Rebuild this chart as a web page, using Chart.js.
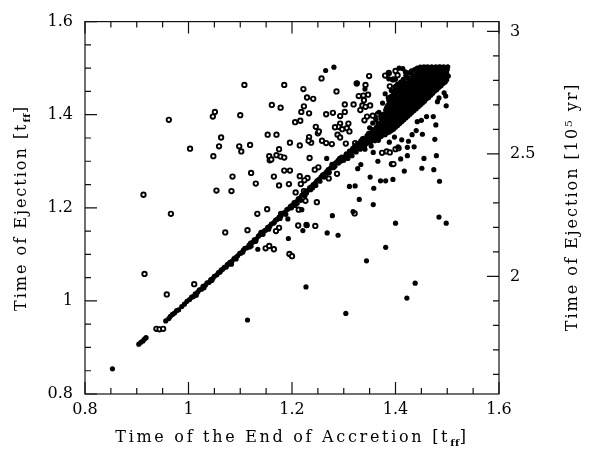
<!DOCTYPE html>
<html><head><meta charset="utf-8">
<script src="https://cdn.jsdelivr.net/npm/chart.js@4"></script>
<style>html,body{margin:0;padding:0;background:#fff}</style>
</head><body>
<canvas id="c" width="591" height="449"></canvas>
<script>
// ---- axis ticks ----
const xTickValues = [0.8, 1.0, 1.2, 1.4, 1.6];
const xTickLabels = ['0.8', '1', '1.2', '1.4', '1.6'];
const yTickValues = [0.8, 1.0, 1.2, 1.4, 1.6];
const yTickLabels = ['0.8', '1', '1.2', '1.4', '1.6'];
const y2TickValues = [2, 2.5, 3];
const y2TickLabels = ['2', '2.5', '3'];

// ---- data: [end of accretion (t_ff), ejection (t_ff)] ----
const ringPoints = [
[0.913,1.228],[0.966,1.187],[0.962,1.389],[1.003,1.327],[0.915,1.058],[0.958,1.014],[1.011,1.036],[0.938,0.940],[0.944,0.939],[0.951,0.940],
[1.047,1.396],[1.051,1.406],[1.063,1.351],[1.059,1.332],[1.048,1.311],[1.054,1.237],[1.071,1.147],[1.083,1.236],[1.085,1.267],[1.100,1.399],
[1.108,1.464],[1.098,1.332],[1.102,1.321],[1.119,1.335],[1.121,1.275],[1.130,1.252],[1.133,1.187],[1.114,1.152],[1.152,1.197],[1.153,1.357],
[1.170,1.357],[1.161,1.421],[1.178,1.415],[1.185,1.464],[1.165,1.267],[1.175,1.248],[1.185,1.280],[1.196,1.280],[1.194,1.251],[1.156,1.311],
[1.157,1.302],[1.170,1.313],[1.178,1.310],[1.185,1.308],[1.175,1.326],[1.196,1.340],[1.206,1.384],[1.216,1.387],[1.223,1.418],[1.218,1.406],
[1.233,1.403],[1.222,1.455],[1.229,1.437],[1.241,1.434],[1.257,1.478],[1.246,1.374],[1.233,1.352],[1.250,1.360],[1.252,1.364],[1.237,1.340],
[1.232,1.344],[1.215,1.334],[1.258,1.344],[1.266,1.401],[1.279,1.404],[1.277,1.337],[1.234,1.307],[1.215,1.268],[1.230,1.264],[1.217,1.251],
[1.224,1.259],[1.207,1.233],[1.223,1.236],[1.213,1.196],[1.226,1.215],[1.248,1.212],[1.212,1.162],[1.228,1.163],[1.245,1.161],[1.175,1.157],
[1.169,1.150],[1.251,1.287],[1.244,1.282],[1.262,1.270],[1.271,1.263],[1.287,1.273],[1.149,1.113],[1.156,1.118],[1.165,1.111],[1.195,1.101],
[1.200,1.096],[1.160,1.304],[1.286,1.450],[1.302,1.422],[1.319,1.422],[1.302,1.406],[1.293,1.397],[1.325,1.467],[1.342,1.464],[1.349,1.483],
[1.329,1.440],[1.338,1.441],[1.347,1.443],[1.339,1.431],[1.332,1.410],[1.336,1.420],[1.342,1.417],[1.351,1.420],[1.293,1.381],[1.309,1.381],
[1.306,1.371],[1.290,1.374],[1.297,1.369],[1.311,1.364],[1.288,1.357],[1.293,1.351],[1.266,1.339],[1.304,1.338],[1.322,1.339],[1.326,1.335],
[1.283,1.373],[1.380,1.484],[1.387,1.489],[1.404,1.485],[1.396,1.476],[1.389,1.461],[1.402,1.461],[1.400,1.494],[1.393,1.294],[1.396,1.294],
[1.374,1.318],[1.383,1.321],[1.389,1.319],[1.400,1.326],[1.406,1.328],[1.321,1.188],[1.278,1.292],[1.345,1.396],[1.356,1.398],[1.366,1.401],
[1.340,1.388]
];

const diagonalPoints = [
[0.853,0.854],[0.904,0.907],[0.908,0.911],[0.912,0.914],[0.915,0.918],[0.918,0.921],[0.956,0.957],[0.962,0.962],[0.965,0.967],[0.969,0.971],
[0.973,0.974],[0.977,0.979],[0.981,0.981],[0.987,0.988],[0.992,0.993],[0.997,0.999],
[1.002,1.003],[1.006,1.008],[1.009,1.009],[1.013,1.015],[1.018,1.019],[1.021,1.024],[1.025,1.025],[1.028,1.031],[1.033,1.034],[1.036,1.039],
[1.040,1.040],[1.043,1.046],[1.047,1.048],[1.050,1.053],[1.055,1.056],[1.058,1.061],[1.061,1.062],[1.066,1.068],[1.069,1.072],[1.073,1.073],
[1.077,1.079],[1.080,1.083],[1.084,1.085],[1.088,1.091],[1.091,1.093],[1.095,1.097],[1.099,1.102],[1.102,1.103],[1.106,1.109],[1.109,1.113],
[1.113,1.114],[1.117,1.120],[1.120,1.124],[1.124,1.126],[1.127,1.131],[1.131,1.133],[1.135,1.139],[1.138,1.142],[1.142,1.145],[1.146,1.150],
[1.149,1.152],[1.153,1.158],[1.157,1.160],[1.160,1.165],[1.164,1.167],[1.168,1.173],[1.171,1.175],[1.175,1.180],[1.179,1.183],[1.182,1.188],
[1.186,1.190],[1.190,1.196],[1.193,1.198],[1.197,1.203],[1.201,1.206],[1.204,1.211],[1.208,1.213],[1.212,1.219],[1.215,1.221],[1.219,1.227],
[1.223,1.229],[1.226,1.234],[1.230,1.237],[1.234,1.243],[1.237,1.245],[1.241,1.250],[1.245,1.253],[1.248,1.258],[1.252,1.261],[1.256,1.266],
[1.259,1.270],[1.263,1.273],[1.267,1.278],[1.270,1.282],[1.274,1.285],[1.278,1.290],[1.281,1.294],[1.285,1.297],[1.289,1.302],[1.292,1.306],
[1.296,1.309],[1.083,1.079],[1.121,1.118],[1.140,1.147],[1.178,1.188],[1.210,1.210],[1.225,1.226],[1.240,1.243],[1.262,1.266],[1.280,1.286],
[1.290,1.296],[1.015,1.012],[1.030,1.028],[1.045,1.044],[1.063,1.066],[1.075,1.078],[1.092,1.090],[1.105,1.105],[1.118,1.116],[1.130,1.128],
[1.144,1.143],[1.155,1.154],[1.166,1.169],[1.177,1.177],[1.188,1.186],[1.199,1.200],[1.206,1.205],[1.217,1.216],[1.228,1.232],[1.236,1.239],
[1.246,1.248],[1.254,1.257],[1.265,1.270],[1.272,1.276],[1.283,1.289],[1.294,1.300]
];

const clusterPoints = [
[1.302,1.309],[1.305,1.316],[1.309,1.313],[1.311,1.322],[1.314,1.318],[1.317,1.327],[1.320,1.323],[1.322,1.333],[1.326,1.329],[1.328,1.338],
[1.331,1.334],[1.333,1.344],[1.336,1.340],[1.338,1.349],[1.341,1.336],[1.343,1.346],[1.345,1.355],[1.347,1.341],[1.350,1.351],[1.352,1.361],
[1.355,1.347],[1.357,1.357],[1.359,1.366],[1.361,1.352],[1.363,1.372],[1.365,1.362],[1.367,1.345],[1.369,1.377],[1.371,1.368],[1.373,1.356],
[1.375,1.383],[1.377,1.373],[1.379,1.391],[1.380,1.362],[1.382,1.379],[1.384,1.398],[1.386,1.386],[1.387,1.369],[1.389,1.407],[1.391,1.393],
[1.392,1.378],[1.394,1.414],[1.396,1.401],[1.397,1.386],[1.399,1.423],[1.400,1.409],[1.402,1.437],[1.403,1.393],[1.405,1.418],[1.406,1.447],
[1.408,1.404],[1.409,1.430],[1.411,1.456],[1.412,1.415],[1.414,1.441],[1.415,1.389],[1.417,1.425],[1.418,1.452],[1.420,1.434],[1.421,1.409],
[1.423,1.461],[1.424,1.444],[1.426,1.420],[1.427,1.469],[1.429,1.452],[1.430,1.432],[1.432,1.412],[1.433,1.462],[1.435,1.442],[1.436,1.476],
[1.438,1.425],[1.439,1.455],[1.441,1.485],[1.442,1.437],[1.444,1.466],[1.445,1.448],[1.447,1.493],[1.448,1.477],[1.450,1.432],[1.451,1.458],
[1.453,1.497],[1.454,1.486],[1.456,1.446],[1.457,1.470],[1.459,1.499],[1.460,1.456],[1.462,1.483],[1.463,1.441],[1.465,1.493],[1.466,1.466],
[1.468,1.500],[1.469,1.452],[1.471,1.478],[1.472,1.490],[1.474,1.462],[1.475,1.501],[1.477,1.472],[1.478,1.488],[1.480,1.496],[1.481,1.458],
[1.483,1.480],[1.484,1.502],[1.486,1.468],[1.487,1.491],[1.489,1.499],[1.490,1.475],[1.492,1.486],[1.493,1.503],[1.495,1.480],[1.496,1.494],
[1.498,1.501],[1.499,1.488],[1.500,1.497],[1.501,1.503],[1.502,1.483],
[1.372,1.392],[1.376,1.401],[1.381,1.410],[1.385,1.420],[1.388,1.428],[1.393,1.437],[1.397,1.446],[1.386,1.437],[1.392,1.452],[1.399,1.460],
[1.404,1.466],[1.410,1.470],[1.415,1.476],[1.380,1.445],[1.375,1.425],[1.368,1.405],[1.362,1.390],[1.356,1.382],[1.350,1.372],
[1.420,1.484],[1.425,1.490],[1.431,1.494],[1.437,1.497],[1.442,1.500],[1.448,1.502],[1.455,1.503],[1.462,1.503],[1.470,1.503],[1.478,1.503],
[1.486,1.503],[1.387,1.491],[1.407,1.500],[1.414,1.499],[1.419,1.492],[1.387,1.477],[1.394,1.475],[1.400,1.476],[1.436,1.477],[1.446,1.479],
[1.395,1.425],[1.401,1.430],[1.407,1.438],[1.413,1.448],[1.419,1.443],[1.425,1.455],[1.431,1.448],[1.437,1.466],[1.443,1.458],[1.449,1.470],
[1.455,1.478],[1.461,1.472],[1.467,1.485],[1.473,1.482],[1.479,1.490],[1.485,1.494],[1.491,1.497],[1.497,1.499],[1.410,1.420],[1.416,1.432],
[1.422,1.426],[1.428,1.440],[1.434,1.433],[1.440,1.447],[1.446,1.440],[1.452,1.465],[1.458,1.460],[1.464,1.475],[1.470,1.468],[1.476,1.494],
[1.482,1.470],[1.488,1.484]
];

const clusterCore = [
[1.364,1.351],[1.363,1.359],[1.365,1.367],[1.364,1.374],[1.366,1.382],
[1.372,1.353],[1.373,1.362],[1.371,1.371],[1.372,1.380],[1.374,1.389],
[1.380,1.357],[1.381,1.366],[1.379,1.376],[1.381,1.385],[1.380,1.395],[1.382,1.404],
[1.388,1.363],[1.389,1.372],[1.387,1.382],[1.388,1.391],[1.390,1.400],[1.388,1.411],[1.389,1.419],[1.387,1.432],
[1.396,1.369],[1.397,1.378],[1.395,1.388],[1.396,1.397],[1.398,1.407],[1.396,1.416],[1.395,1.429],[1.397,1.438],[1.396,1.449],
[1.404,1.377],[1.405,1.386],[1.403,1.396],[1.404,1.405],[1.406,1.414],[1.404,1.423],[1.403,1.434],[1.405,1.443],[1.404,1.453],
[1.412,1.385],[1.413,1.394],[1.411,1.403],[1.412,1.412],[1.414,1.422],[1.412,1.431],[1.411,1.440],[1.413,1.450],[1.412,1.460],
[1.420,1.393],[1.421,1.402],[1.419,1.411],[1.420,1.420],[1.422,1.429],[1.420,1.438],[1.419,1.448],[1.421,1.457],[1.420,1.467],
[1.428,1.401],[1.429,1.410],[1.427,1.419],[1.428,1.428],[1.430,1.437],[1.428,1.446],[1.427,1.456],[1.429,1.465],[1.428,1.474],
[1.436,1.409],[1.437,1.418],[1.435,1.427],[1.436,1.436],[1.438,1.445],[1.436,1.454],[1.435,1.463],[1.437,1.472],[1.436,1.482],
[1.444,1.417],[1.445,1.426],[1.443,1.435],[1.444,1.444],[1.446,1.453],[1.444,1.462],[1.443,1.471],[1.445,1.480],[1.444,1.489],
[1.452,1.425],[1.453,1.434],[1.451,1.443],[1.452,1.452],[1.454,1.461],[1.452,1.470],[1.451,1.479],[1.453,1.488],[1.452,1.497],
[1.460,1.434],[1.461,1.443],[1.459,1.452],[1.460,1.461],[1.462,1.470],[1.460,1.479],[1.459,1.488],[1.461,1.496],
[1.468,1.442],[1.469,1.451],[1.467,1.460],[1.468,1.469],[1.470,1.478],[1.468,1.487],[1.467,1.495],
[1.476,1.451],[1.477,1.460],[1.475,1.469],[1.476,1.478],[1.478,1.487],[1.476,1.496],
[1.484,1.459],[1.485,1.468],[1.483,1.477],[1.484,1.486],[1.486,1.495],
[1.492,1.467],[1.493,1.476],[1.491,1.485],[1.492,1.494],[1.494,1.501],
[1.499,1.475],[1.500,1.484],[1.498,1.493],[1.499,1.501],
[1.300,1.302],[1.304,1.312],[1.308,1.306],[1.312,1.316],[1.316,1.312],[1.320,1.330],[1.324,1.320],[1.328,1.332],[1.332,1.326],[1.336,1.348],
[1.340,1.332],[1.344,1.338],[1.348,1.360],[1.352,1.342],[1.356,1.368],[1.360,1.344]
];

const clusterFill = [
[1.368,1.355],[1.369,1.363],[1.367,1.371],[1.368,1.379],
[1.376,1.357],[1.377,1.366],[1.375,1.375],[1.376,1.385],[1.377,1.394],
[1.384,1.361],[1.385,1.370],[1.383,1.380],[1.384,1.390],[1.385,1.399],[1.384,1.408],[1.383,1.416],
[1.392,1.366],[1.393,1.376],[1.391,1.386],[1.392,1.395],[1.393,1.405],[1.392,1.414],[1.391,1.424],[1.392,1.440],
[1.400,1.373],[1.401,1.382],[1.399,1.391],[1.400,1.401],[1.401,1.410],[1.400,1.419],[1.399,1.428],[1.400,1.438],[1.401,1.448],[1.400,1.456],
[1.408,1.381],[1.409,1.390],[1.407,1.399],[1.408,1.408],[1.409,1.417],[1.408,1.426],[1.407,1.435],[1.408,1.445],[1.409,1.455],[1.408,1.463],
[1.416,1.389],[1.417,1.398],[1.415,1.407],[1.416,1.416],[1.417,1.425],[1.416,1.434],[1.415,1.444],[1.416,1.453],[1.417,1.462],[1.416,1.471],
[1.424,1.397],[1.425,1.406],[1.423,1.415],[1.424,1.424],[1.425,1.433],[1.424,1.442],[1.423,1.451],[1.424,1.460],[1.425,1.470],[1.424,1.479],
[1.432,1.405],[1.433,1.414],[1.431,1.423],[1.432,1.431],[1.433,1.440],[1.432,1.449],[1.431,1.458],[1.432,1.467],[1.433,1.477],[1.432,1.486],
[1.440,1.413],[1.441,1.421],[1.439,1.430],[1.440,1.439],[1.441,1.448],[1.440,1.457],[1.439,1.466],[1.440,1.475],[1.441,1.485],[1.440,1.494],
[1.448,1.421],[1.449,1.429],[1.447,1.438],[1.448,1.447],[1.449,1.456],[1.448,1.465],[1.447,1.474],[1.448,1.483],[1.449,1.492],[1.448,1.499],
[1.456,1.429],[1.457,1.437],[1.455,1.446],[1.456,1.455],[1.457,1.464],[1.456,1.473],[1.455,1.482],[1.456,1.491],[1.457,1.500],
[1.464,1.437],[1.465,1.446],[1.463,1.455],[1.464,1.464],[1.465,1.473],[1.464,1.482],[1.463,1.491],[1.464,1.500],
[1.472,1.446],[1.473,1.455],[1.471,1.464],[1.472,1.473],[1.473,1.482],[1.472,1.491],[1.471,1.500],
[1.480,1.454],[1.481,1.463],[1.479,1.472],[1.480,1.481],[1.481,1.490],[1.480,1.499],
[1.488,1.462],[1.489,1.471],[1.487,1.480],[1.488,1.489],[1.489,1.498],
[1.496,1.470],[1.497,1.479],[1.495,1.488],[1.496,1.497]
];

const scatterDots = [
[1.114,0.959],[1.304,0.973],[1.227,1.030],[1.422,1.006],[1.438,1.038],[1.344,1.086],[1.381,1.115],[1.400,1.167],[1.498,1.167],[1.484,1.180],
[1.485,1.257],[1.479,1.312],[1.455,1.306],[1.451,1.285],[1.474,1.282],[1.423,1.312],[1.410,1.305],[1.417,1.279],[1.395,1.261],[1.381,1.258],
[1.371,1.258],[1.366,1.300],[1.423,1.330],[1.436,1.331],[1.351,1.266],[1.358,1.242],[1.357,1.207],[1.330,1.218],[1.318,1.192],[1.311,1.246],
[1.322,1.247],[1.333,1.293],[1.327,1.284],[1.278,1.183],[1.268,1.146],[1.289,1.141],[1.193,1.134],[1.134,1.111],[1.192,1.176],[1.221,1.151],
[1.219,1.196],[1.229,1.162],[1.265,1.495],[1.281,1.502],[1.326,1.468],[1.341,1.455],[1.498,1.419],[1.494,1.447],[1.497,1.440],[1.484,1.436],
[1.481,1.428],[1.473,1.396],[1.460,1.396],[1.450,1.388],[1.442,1.385],[1.478,1.378],[1.476,1.347],[1.452,1.358],[1.440,1.366],[1.432,1.357],
[1.425,1.343],[1.405,1.331],[1.412,1.346],[1.398,1.352],[1.388,1.341],[1.341,1.326],[1.357,1.319],[1.353,1.333],[1.267,1.306]
];

const toXY = arr => arr.map(p => ({x: p[0], y: p[1]}));
const FONT = '"DejaVu Serif", serif';

const framePlugin = {
  id: 'frame',
  afterDatasetsDraw(chart) {
    const {ctx, chartArea: a, scales} = chart;
    const sx = scales.x, sy = scales.y, sy2 = scales.y2;
    ctx.save();
    ctx.strokeStyle = '#111';
    ctx.lineWidth = 1.2;
    ctx.strokeRect(a.left, a.top, a.right - a.left, a.bottom - a.top);
    ctx.beginPath();
    for (let i = 0; i <= 16; i++) {
      const v = 0.8 + i * 0.05;
      const L = (i % 4 === 0) ? 12 : 6;
      const px = sx.getPixelForValue(v);
      ctx.moveTo(px, a.bottom); ctx.lineTo(px, a.bottom - L);
      ctx.moveTo(px, a.top); ctx.lineTo(px, a.top + L);
      const py = sy.getPixelForValue(v);
      ctx.moveTo(a.left, py); ctx.lineTo(a.left + L, py);
    }
    for (let i = 16; i <= 30; i++) {
      const v = i / 10;
      const L = (i % 5 === 0) ? 12 : 6;
      const py = sy2.getPixelForValue(v);
      ctx.moveTo(a.right, py); ctx.lineTo(a.right - L, py);
    }
    ctx.stroke();
    ctx.restore();
  }
};

function drawRich(ctx, parts, size, spacing) {
  let total = 0;
  const widths = [];
  for (const [t, m] of parts) {
    const fs = m ? size * 0.62 : size;
    ctx.font = `${m ? 'bold ' : ''}${fs}px ${FONT}`;
    ctx.letterSpacing = (m ? 0.5 : spacing) + 'px';
    const w = ctx.measureText(t).width;
    widths.push(w); total += w;
  }
  let x = -total / 2;
  parts.forEach(([t, m], i) => {
    const fs = m ? size * 0.62 : size;
    ctx.font = `${m ? 'bold ' : ''}${fs}px ${FONT}`;
    ctx.letterSpacing = (m ? 0.5 : spacing) + 'px';
    ctx.fillText(t, x, m === 1 ? size * 0.22 : 0);
    x += widths[i];
  });
}

const titlePlugin = {
  id: 'titles',
  afterDraw(chart) {
    const {ctx, chartArea: a} = chart;
    ctx.save();
    ctx.fillStyle = '#000';
    ctx.textAlign = 'left';
    ctx.textBaseline = 'alphabetic';
    const cx = (a.left + a.right) / 2, cy = (a.top + a.bottom) / 2;
    ctx.save(); ctx.translate(cx, 442);
    drawRich(ctx, [['Time of the End of Accretion [t', 0], ['ff', 1], [']', 0]], 16, 2.7);
    ctx.restore();
    ctx.save(); ctx.translate(26, cy); ctx.rotate(-Math.PI / 2);
    drawRich(ctx, [['Time of Ejection [t', 0], ['ff', 1], [']', 0]], 16, 2.0);
    ctx.restore();
    ctx.save(); ctx.translate(577, cy - 1); ctx.rotate(-Math.PI / 2);
    drawRich(ctx, [['Time of Ejection [10\u2075 yr]', 0]], 16, 2.0);
    ctx.restore();
    ctx.restore();
  }
};

const tickFont = {family: FONT, size: 16};

new Chart(document.getElementById('c'), {
  type: 'scatter',
  data: {
    datasets: [
      {
        label: 'filled',
        data: toXY([...diagonalPoints, ...clusterPoints, ...clusterCore, ...clusterFill, ...scatterDots]),
        pointStyle: 'circle', pointRadius: 2.6, backgroundColor: '#000', borderWidth: 0,
        xAxisID: 'x', yAxisID: 'y', order: 0
      },
      {
        label: 'open',
        data: toXY(ringPoints),
        pointStyle: 'circle', pointRadius: 2.2, borderWidth: 1.9, borderColor: '#000', backgroundColor: '#fff',
        xAxisID: 'x', yAxisID: 'y', order: 1
      }
    ]
  },
  options: {
    responsive: false,
    animation: false,
    events: [],
    layout: {padding: {top: 17, left: 0, right: 0, bottom: 0}},
    plugins: {legend: {display: false}, tooltip: {enabled: false}},
    scales: {
      x: {
        type: 'linear', position: 'bottom', min: 0.8, max: 1.6,
        afterBuildTicks: s => { s.ticks = xTickValues.map(v => ({value: v})); },
        afterFit: s => { s.height = 55; },
        ticks: {callback: (v, i) => xTickLabels[i], font: tickFont, color: '#000', padding: 6, maxRotation: 0, autoSkip: false},
        grid: {display: false, drawTicks: false}, border: {display: false}
      },
      y: {
        type: 'linear', position: 'left', min: 0.8, max: 1.6,
        afterBuildTicks: s => { s.ticks = yTickValues.map(v => ({value: v})); },
        afterFit: s => { s.width = 85; },
        ticks: {callback: (v, i) => yTickLabels[i], font: tickFont, color: '#000', padding: 12, autoSkip: false},
        grid: {display: false, drawTicks: false}, border: {display: false}
      },
      y2: {
        type: 'linear', position: 'right', min: 1.52, max: 3.04,
        afterBuildTicks: s => { s.ticks = y2TickValues.map(v => ({value: v})); },
        afterFit: s => { s.width = 92; },
        ticks: {callback: (v, i) => y2TickLabels[i], font: tickFont, color: '#000', padding: 11, autoSkip: false},
        grid: {display: false, drawTicks: false}, border: {display: false}
      }
    }
  },
  plugins: [framePlugin, titlePlugin]
});
</script>
</body></html>
